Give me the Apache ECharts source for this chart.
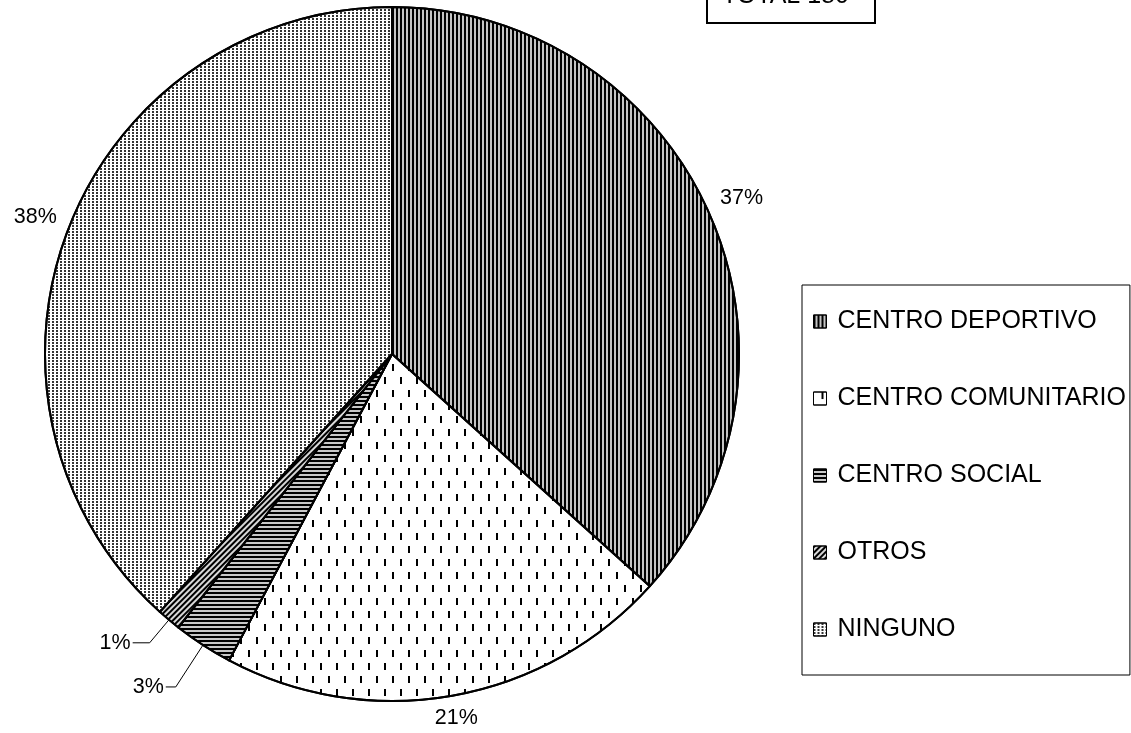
<!DOCTYPE html>
<html><head><meta charset="utf-8">
<script src="https://cdn.jsdelivr.net/npm/echarts@6/dist/echarts.min.js"></script>
<style>html,body{margin:0;padding:0;background:#fff;overflow:hidden}#c{width:1131px;height:733px}</style>
</head><body><div id="c"></div>
<script>
// ---- data ----
const categories = ['CENTRO DEPORTIVO', 'CENTRO COMUNITARIO', 'CENTRO SOCIAL', 'OTROS', 'NINGUNO'];
const counts = [66, 38, 5, 2, 69];
const totalLabel = 'TOTAL 180';

// ---- layout / style ----
const FONT = '"Liberation Sans", Arial, sans-serif';
const CX = 392, CY = 354, R = 347;
const baseColors = ['#c4c4c4', '#ffffff', '#c8c8c8', '#d8d8d8', '#ffffff'];
const decals = [
  { symbol: 'rect', symbolSize: 1, color: '#000', dashArrayX: [2, 2], dashArrayY: [4, 0] },
  { symbol: 'rect', symbolSize: 1, color: '#000', dashArrayX: [[2, 14], [0, 8, 2, 6]], dashArrayY: [7, 6] },
  { symbol: 'rect', symbolSize: 1, color: '#000', dashArrayX: [4, 0], dashArrayY: [2, 2] },
  { symbol: 'rect', symbolSize: 1, color: '#000', dashArrayX: [2, 2], dashArrayY: [4, 0], rotation: Math.PI / 4 },
  { symbol: 'rect', symbolSize: 1, color: '#333', dashArrayX: [2, 2], dashArrayY: [2, 1] }
];
const leader = { 2: [50, 10], 3: [30, 17] };

const total = counts.reduce((a, b) => a + b, 0);
const starts = []; let acc = 0;
counts.forEach(v => { starts.push(acc); acc += v; });
function midAngle(i) { return (starts[i] + counts[i] / 2) / total * 2 * Math.PI; }

const data = categories.map((name, i) => ({
  name: name,
  value: counts[i],
  itemStyle: { color: baseColors[i], decal: decals[i] },
  labelLine: leader[i] ? { show: true, length: leader[i][0], length2: leader[i][1] } : { show: false }
}));

const chart = echarts.init(document.getElementById('c'), null, { renderer: 'canvas' });
chart.setOption({
  animation: false,
  backgroundColor: '#fff',
  title: {
    text: totalLabel,
    left: 707, top: -26,
    padding: [10, 26, 14, 15],
    borderColor: '#000', borderWidth: 2,
    textStyle: { fontFamily: FONT, fontSize: 25, fontWeight: 'normal', color: '#000', lineHeight: 25 }
  },
  legend: {
    orient: 'vertical',
    left: 802, top: 285,
    padding: [24, 4, 33, 11],
    itemGap: 52,
    itemWidth: 13, itemHeight: 13,
    icon: 'rect',
    borderColor: '#000', borderWidth: 1,
    selectedMode: false,
    itemStyle: { borderColor: '#000', borderWidth: 1 },
    textStyle: { fontFamily: FONT, fontSize: 25, color: '#000', lineHeight: 25, padding: [0, 0, 0, 6] },
    data: categories
  },
  series: [{
    type: 'pie',
    center: [CX, CY],
    radius: R,
    startAngle: 90,
    clockwise: true,
    avoidLabelOverlap: false,
    emphasis: { disabled: true },
    itemStyle: { borderColor: '#000', borderWidth: 2 },
    label: {
      show: true,
      position: 'outside',
      formatter: p => Math.round(p.percent) + '%',
      fontFamily: FONT, fontSize: 21.5, color: '#000',
      distanceToLabelLine: 2
    },
    labelLine: { lineStyle: { color: '#000', width: 1 }, smooth: false },
    labelLayout: function (p) {
      const i = p.dataIndex;
      if (leader[i]) return {};
      const a = midAngle(i);
      const dx = Math.sin(a), dy = -Math.cos(a);
      const hw = p.labelRect.width / 2, hh = p.labelRect.height / 2;
      const ex = Math.abs(dx) > 1e-6 ? hw / Math.abs(dx) : Infinity;
      const ey = Math.abs(dy) > 1e-6 ? hh / Math.abs(dy) : Infinity;
      const d = R + 12 + Math.min(ex, ey);
      return { x: CX + d * dx, y: CY + d * dy, align: 'center', verticalAlign: 'middle' };
    },
    data: data
  }]
});
</script>
</body></html>
